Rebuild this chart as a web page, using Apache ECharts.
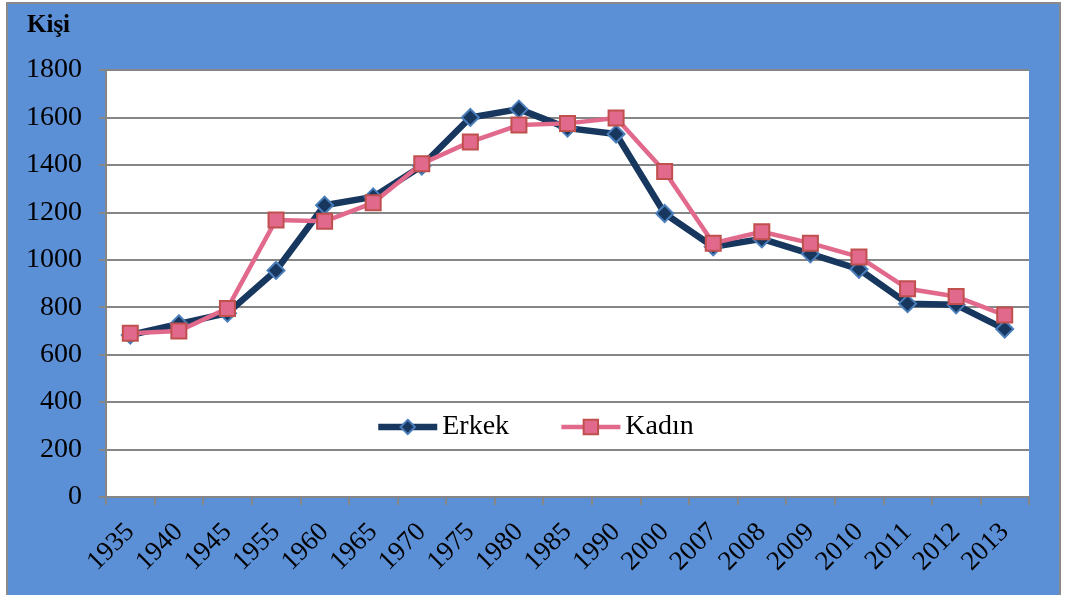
<!DOCTYPE html>
<html>
<head>
<meta charset="utf-8">
<script src="https://cdn.jsdelivr.net/npm/echarts@6/dist/echarts.min.js"></script>
<style>
html,body{margin:0;padding:0;background:#ffffff;}
#chart{width:1066px;height:595px;}
</style>
</head>
<body>
<div id="chart"></div>
<script>
const categories = ['1935','1940','1945','1955','1960','1965','1970','1975','1980','1985','1990','2000','2007','2008','2009','2010','2011','2012','2013'];
const erkek = [683, 730, 775, 955, 1230, 1265, 1395, 1600, 1635, 1555, 1530, 1195, 1055, 1088, 1025, 960, 815, 810, 708];
const kadin = [690, 700, 795, 1168, 1162, 1240, 1405, 1497, 1568, 1575, 1598, 1372, 1070, 1118, 1070, 1012, 878, 845, 767];
const yTitle = 'Kişi';

const chart = echarts.init(document.getElementById('chart'), null, {renderer: 'canvas'});
const serif = '"Liberation Serif", "Times New Roman", serif';
chart.setOption({
  backgroundColor: '#ffffff',
  animation: false,
  graphic: [
    {type: 'rect', z: -10, shape: {x: 7, y: 3, width: 1053, height: 600},
     style: {fill: '#5b8fd6', stroke: '#8a8a8a', lineWidth: 2}},
    {type: 'rect', z: -9, shape: {x: 106, y: 70, width: 923, height: 427},
     style: {fill: '#ffffff'}},
    {type: 'text', left: 27, top: 13,
     style: {text: yTitle, font: 'bold 25px ' + serif, fill: '#000'}}
  ],
  grid: {left: 106, right: 37, top: 70, bottom: 98, containLabel: false},
  legend: {
    left: 375, top: 413, padding: 0,
    itemWidth: 59, itemHeight: 18, itemGap: 50,
    textStyle: {fontFamily: serif, fontSize: 28, color: '#000'},
    data: [
      {name: 'Erkek', lineStyle: {width: 6.5, color: '#17375e'}},
      {name: 'Kadın', lineStyle: {width: 4.5, color: '#e0698c'}}
    ]
  },
  xAxis: {
    type: 'category', data: categories, boundaryGap: true,
    axisLine: {lineStyle: {color: '#868686', width: 2}},
    axisTick: {show: true, length: 8, lineStyle: {color: '#868686', width: 2}},
    axisLabel: {rotate: 45, interval: 0, hideOverlap: false, fontFamily: serif, fontSize: 27, color: '#000', margin: 31}
  },
  yAxis: {
    type: 'value', min: 0, max: 1800, interval: 200,
    axisLine: {show: true, lineStyle: {color: '#868686', width: 2}},
    axisTick: {show: true, length: 7, lineStyle: {color: '#868686', width: 2}},
    splitLine: {lineStyle: {color: '#868686', width: 2}},
    axisLabel: {fontFamily: serif, fontSize: 28, color: '#000', margin: 24,
      formatter: function (v) { return String(v); }}
  },
  series: [
    {
      name: 'Erkek', type: 'line', data: erkek, z: 2,
      symbol: 'diamond', symbolSize: 17,
      lineStyle: {color: '#17375e', width: 6.5},
      itemStyle: {color: '#17375e', borderColor: '#4a7ebb', borderWidth: 2}
    },
    {
      name: 'Kadın', type: 'line', data: kadin, z: 3,
      symbol: 'rect', symbolSize: 15,
      lineStyle: {color: '#e0698c', width: 4.5},
      itemStyle: {color: '#e0698c', borderColor: '#c0504d', borderWidth: 2}
    }
  ]
});
</script>
</body>
</html>
